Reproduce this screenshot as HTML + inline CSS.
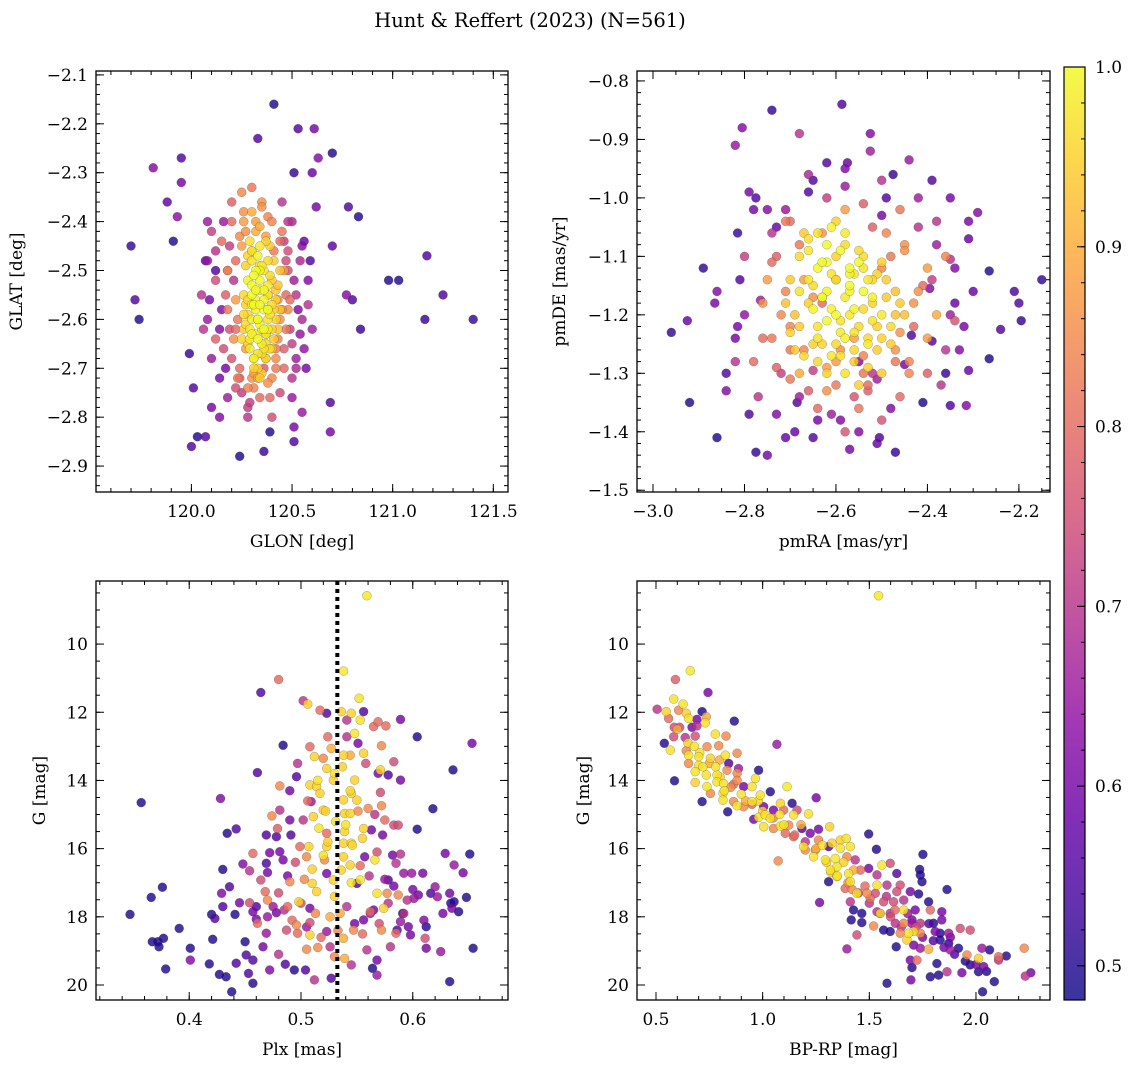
<!DOCTYPE html>
<html><head><meta charset="utf-8"><style>
html,body{margin:0;padding:0;background:#fff;}
svg{display:block;font-family:"DejaVu Serif","Liberation Serif",serif;}
</style></head><body>
<svg id="fig" width="1136" height="1067" viewBox="0 0 1136 1067" xmlns="http://www.w3.org/2000/svg">
<defs>
<linearGradient id="cbgrad" x1="0" y1="1" x2="0" y2="0">
<stop offset="0" stop-color="#0d0887"/><stop offset="0.1" stop-color="#41049d"/><stop offset="0.2" stop-color="#6a00a8"/><stop offset="0.3" stop-color="#8f0da4"/><stop offset="0.4" stop-color="#b12a90"/><stop offset="0.5" stop-color="#cc4778"/><stop offset="0.6" stop-color="#e16462"/><stop offset="0.7" stop-color="#f2844b"/><stop offset="0.8" stop-color="#fca636"/><stop offset="0.9" stop-color="#fcce25"/><stop offset="1" stop-color="#f0f921"/>
</linearGradient>
</defs>
<text x="530" y="27" font-size="19.5" text-anchor="middle">Hunt &amp; Reffert (2023) (N=561)</text>
</svg>
<script>
// ---- Panel 1: GLON / GLAT ----
const glonVals=[120.41,119.70,119.72,119.74,119.81,119.95,119.95,119.88,119.93,119.91,119.99,120.01,120.00,120.03,120.07,120.24,120.36,120.39,120.51,120.51,120.55,120.69,120.69,120.53,120.61,120.70,120.63,120.51,120.60,120.78,120.83,120.77,120.80,120.84,120.98,121.03,121.17,121.16,121.25,121.40,120.33,120.70,120.62,
120.10,120.15,120.08,120.12,120.20,120.25,120.30,120.45,120.50,120.55,120.05,120.08,120.12,120.18,120.48,120.52,120.58,120.55,120.50,120.46,120.10,120.14,120.06,120.18,120.22,120.28,120.34,120.40,120.44,120.52,120.56,120.60,120.58,120.48,120.42,120.36,120.30,120.24,120.16,120.12,120.08,120.20,120.26,120.32,120.38,120.46,120.54,120.50,120.14,120.10,120.28,120.40,120.22,120.18,120.35,120.47,120.43,120.25,120.31,120.37,
120.30,120.34,120.38,120.32,120.36,120.40,120.28,120.26,120.30,120.34,120.38,120.42,120.44,120.36,120.32,120.28,120.30,120.34,120.38,120.40,120.26,120.29,120.33,120.37,120.41,120.35,120.31,120.27,120.39,120.43,120.30,120.34,120.38,120.32,120.36,120.28,120.40,120.33,120.37,120.29,120.35,120.31,120.39,120.27,120.42,120.33,120.36,120.30,120.38,120.34,
120.16,120.19,120.22,120.24,120.21,120.17,120.15,120.19,120.23,120.27,120.45,120.48,120.51,120.47,120.44,120.49,120.53,120.46,120.42,120.50,120.20,120.23,120.17,120.25,120.21,120.46,120.49,120.43,120.52,120.47,120.26,120.30,120.35,120.40,120.44,120.24,120.28,120.33,120.38,120.42,120.12,120.09,120.56,120.59,120.14,120.54,120.32,120.37,120.27,120.41,120.07,120.57,120.18,120.48,120.29,120.39,120.22,120.45,120.34,120.31,
120.29,120.33,120.37,120.41,120.31,120.35,120.39,120.27,120.43,120.30,120.34,120.38,120.32,120.36,120.28,120.40,120.33,120.37,120.31,120.35,120.26,120.30,120.34,120.38,120.42,120.29,120.33,120.37,120.41,120.36,120.32,120.28,120.39,120.35,120.31,120.44,120.25,120.34,120.38,120.30];
const glatVals=[-2.16,-2.45,-2.56,-2.60,-2.29,-2.27,-2.32,-2.36,-2.39,-2.44,-2.67,-2.74,-2.86,-2.84,-2.84,-2.88,-2.87,-2.83,-2.82,-2.85,-2.79,-2.77,-2.83,-2.21,-2.21,-2.26,-2.27,-2.30,-2.30,-2.37,-2.39,-2.55,-2.56,-2.62,-2.52,-2.52,-2.47,-2.60,-2.55,-2.60,-2.23,-2.45,-2.37,
-2.42,-2.44,-2.48,-2.52,-2.36,-2.34,-2.33,-2.36,-2.40,-2.45,-2.55,-2.60,-2.64,-2.58,-2.50,-2.55,-2.52,-2.60,-2.65,-2.70,-2.68,-2.72,-2.62,-2.76,-2.74,-2.78,-2.76,-2.72,-2.75,-2.70,-2.66,-2.62,-2.57,-2.58,-2.66,-2.70,-2.72,-2.70,-2.66,-2.46,-2.40,-2.40,-2.38,-2.40,-2.39,-2.44,-2.48,-2.76,-2.80,-2.78,-2.80,-2.80,-2.62,-2.50,-2.36,-2.62,-2.56,-2.45,-2.74,-2.68,
-2.46,-2.45,-2.48,-2.50,-2.50,-2.52,-2.52,-2.55,-2.55,-2.54,-2.55,-2.56,-2.50,-2.58,-2.58,-2.59,-2.60,-2.61,-2.60,-2.62,-2.62,-2.64,-2.64,-2.65,-2.58,-2.67,-2.68,-2.57,-2.66,-2.62,-2.48,-2.52,-2.53,-2.56,-2.54,-2.47,-2.57,-2.60,-2.63,-2.66,-2.62,-2.57,-2.45,-2.61,-2.54,-2.70,-2.66,-2.63,-2.58,-2.49,
-2.40,-2.45,-2.48,-2.43,-2.52,-2.55,-2.58,-2.62,-2.60,-2.66,-2.42,-2.46,-2.52,-2.55,-2.60,-2.62,-2.58,-2.66,-2.68,-2.72,-2.68,-2.72,-2.70,-2.75,-2.64,-2.50,-2.56,-2.64,-2.68,-2.48,-2.40,-2.38,-2.37,-2.40,-2.44,-2.72,-2.74,-2.72,-2.73,-2.70,-2.50,-2.56,-2.44,-2.48,-2.62,-2.63,-2.42,-2.43,-2.42,-2.46,-2.48,-2.70,-2.50,-2.40,-2.77,-2.76,-2.56,-2.58,-2.41,-2.71,
-2.44,-2.47,-2.44,-2.48,-2.51,-2.49,-2.51,-2.49,-2.53,-2.57,-2.57,-2.58,-2.63,-2.62,-2.65,-2.66,-2.67,-2.68,-2.70,-2.71,-2.59,-2.53,-2.50,-2.55,-2.60,-2.62,-2.60,-2.63,-2.64,-2.56,-2.54,-2.56,-2.59,-2.65,-2.68,-2.58,-2.64,-2.72,-2.62,-2.46];
const prob1=[0.50,0.52,0.55,0.50,0.62,0.55,0.60,0.57,0.63,0.50,0.52,0.55,0.55,0.50,0.56,0.50,0.52,0.50,0.60,0.55,0.65,0.55,0.60,0.55,0.60,0.50,0.62,0.52,0.58,0.55,0.50,0.62,0.55,0.52,0.50,0.50,0.55,0.52,0.55,0.52,0.55,0.57,0.60,
0.72,0.80,0.65,0.75,0.78,0.85,0.82,0.70,0.68,0.62,0.70,0.65,0.78,0.82,0.75,0.70,0.62,0.68,0.72,0.80,0.65,0.60,0.70,0.66,0.75,0.72,0.80,0.85,0.74,0.68,0.64,0.66,0.70,0.85,0.82,0.78,0.86,0.80,0.75,0.70,0.65,0.80,0.86,0.88,0.84,0.72,0.68,0.65,0.62,0.60,0.70,0.75,0.80,0.78,0.86,0.82,0.86,0.88,0.84,0.88,
0.95,0.98,0.96,1.0,0.97,0.94,0.99,0.96,1.0,0.98,0.97,0.95,0.93,1.0,0.99,0.96,0.98,1.0,0.97,0.95,0.94,0.98,1.0,0.96,0.95,0.97,0.99,0.95,0.96,0.93,0.97,1.0,0.98,0.99,1.0,0.95,0.96,1.0,0.97,0.98,0.99,1.0,0.94,0.96,0.93,0.95,0.97,0.99,1.0,0.98,
0.65,0.72,0.80,0.85,0.70,0.78,0.62,0.75,0.82,0.88,0.82,0.75,0.66,0.80,0.86,0.72,0.62,0.78,0.85,0.70,0.76,0.82,0.60,0.72,0.86,0.88,0.80,0.84,0.66,0.74,0.88,0.90,0.86,0.84,0.80,0.78,0.84,0.90,0.86,0.82,0.55,0.60,0.58,0.55,0.62,0.64,0.90,0.88,0.86,0.82,0.56,0.60,0.84,0.70,0.72,0.80,0.88,0.86,0.90,0.88,
0.97,0.99,0.95,0.94,1.0,0.98,0.96,0.95,0.93,0.99,1.0,0.97,0.98,1.0,0.95,0.94,0.97,0.96,0.95,0.94,0.96,1.0,0.99,0.97,0.95,0.98,1.0,0.97,0.94,0.99,1.0,0.96,0.97,0.98,0.96,0.93,0.95,0.94,0.98,0.97];
const glonTicks=[120.0,120.5,121.0,121.5];
const glatTicks=[-2.9,-2.8,-2.7,-2.6,-2.5,-2.4,-2.3,-2.2,-2.1];

// ---- Panel 2: pmRA / pmDE ----
const pmraVals=[-2.587,-2.74,-2.805,-2.82,-2.68,-2.525,-2.62,-2.575,-2.525,-2.65,-2.475,-2.79,-2.775,-2.75,-2.71,-2.73,-2.815,-2.80,-2.81,-2.86,-2.865,-2.96,-2.92,-2.84,-2.86,-2.79,-2.775,-2.75,-2.71,-2.685,-2.59,-2.505,-2.47,-2.41,-2.35,-2.315,-2.36,-2.31,-2.265,-2.24,-2.195,-2.20,-2.15,-2.265,-2.31,-2.29,-2.35,-2.39,-2.44,-2.35,-2.395,-2.34,-2.435,-2.45,-2.51,-2.55,-2.65,-2.73,-2.82,-2.765,-2.89,-2.925,-2.815,-2.21,-2.39,-2.31,-2.49,
-2.75,-2.72,-2.70,-2.68,-2.66,-2.64,-2.62,-2.55,-2.50,-2.46,-2.44,-2.40,-2.38,-2.42,-2.48,-2.52,-2.58,-2.63,-2.68,-2.73,-2.78,-2.76,-2.70,-2.60,-2.54,-2.47,-2.43,-2.36,-2.34,-2.56,-2.65,-2.71,-2.50,-2.45,-2.60,-2.67,-2.74,-2.53,-2.40,-2.58,
-2.66,-2.62,-2.60,-2.58,-2.64,-2.68,-2.70,-2.62,-2.56,-2.54,-2.52,-2.50,-2.48,-2.46,-2.60,-2.64,-2.66,-2.58,-2.55,-2.53,-2.51,-2.57,-2.61,-2.65,-2.69,-2.63,-2.59,-2.56,-2.49,-2.47,-2.54,-2.60,-2.67,-2.71,-2.62,-2.58,-2.52,-2.50,-2.56,-2.64,-2.61,-2.57,-2.53,-2.59,-2.65,-2.55,-2.63,-2.68,-2.51,-2.45,
-2.78,-2.74,-2.70,-2.66,-2.62,-2.58,-2.54,-2.50,-2.46,-2.42,-2.38,-2.34,-2.30,-2.76,-2.72,-2.68,-2.64,-2.60,-2.56,-2.52,-2.48,-2.44,-2.40,-2.36,-2.32,-2.80,-2.71,-2.67,-2.63,-2.59,-2.55,-2.51,-2.47,-2.43,-2.39,-2.35,-2.77,-2.73,-2.69,-2.65,-2.61,-2.57,-2.53,-2.49,-2.45,-2.41,-2.37,-2.33,-2.84,-2.82,-2.66,-2.58,-2.50,-2.42,-2.62,-2.54,-2.46,-2.70,-2.74,-2.38,
-2.64,-2.61,-2.58,-2.55,-2.52,-2.49,-2.66,-2.63,-2.60,-2.57,-2.54,-2.51,-2.48,-2.68,-2.65,-2.62,-2.59,-2.56,-2.53,-2.50,-2.47,-2.70,-2.67,-2.61,-2.58,-2.55,-2.52,-2.63,-2.57,-2.60,-2.54,-2.66,-2.69,-2.59,-2.56,-2.62,-2.53,-2.50,-2.64,-2.57];
const pmdeVals=[-0.84,-0.85,-0.88,-0.91,-0.89,-0.89,-0.94,-0.94,-0.92,-0.97,-0.96,-0.99,-1.00,-1.02,-1.02,-1.05,-1.06,-1.10,-1.14,-1.16,-1.18,-1.23,-1.35,-1.33,-1.41,-1.37,-1.435,-1.44,-1.41,-1.35,-1.38,-1.41,-1.435,-1.35,-1.355,-1.355,-1.30,-1.295,-1.275,-1.225,-1.21,-1.18,-1.14,-1.125,-1.07,-1.025,-1.00,-0.97,-0.935,-1.105,-1.155,-1.18,-1.235,-1.285,-1.31,-1.28,-1.295,-1.29,-1.28,-1.175,-1.12,-1.21,-1.22,-1.16,-1.245,-1.04,-1.00,
-1.14,-1.20,-1.26,-1.30,-1.33,-1.36,-1.33,-1.36,-1.38,-1.34,-1.30,-1.24,-1.20,-1.16,-1.10,-1.05,-1.02,-1.06,-1.08,-1.10,-1.28,-1.18,-1.22,-1.28,-1.30,-1.26,-1.22,-1.10,-1.21,-1.24,-1.17,-1.04,-1.12,-1.08,-1.14,-1.26,-1.24,-1.32,-1.12,-1.40,
-1.07,-1.08,-1.10,-1.06,-1.12,-1.10,-1.14,-1.16,-1.13,-1.16,-1.18,-1.20,-1.22,-1.18,-1.20,-1.22,-1.18,-1.24,-1.22,-1.25,-1.26,-1.15,-1.13,-1.15,-1.20,-1.25,-1.27,-1.19,-1.14,-1.16,-1.10,-1.04,-1.06,-1.18,-1.11,-1.17,-1.21,-1.24,-1.28,-1.28,-1.19,-1.12,-1.14,-1.21,-1.25,-1.09,-1.17,-1.22,-1.13,-1.20,
-1.02,-1.06,-1.04,-0.99,-1.00,-0.98,-1.01,-1.03,-1.02,-1.05,-1.08,-1.12,-1.16,-1.24,-1.30,-1.34,-1.38,-1.32,-1.34,-1.30,-1.36,-1.28,-1.30,-1.26,-1.22,-1.20,-1.16,-1.14,-1.18,-1.26,-1.40,-1.42,-1.28,-1.18,-1.14,-1.20,-1.34,-1.37,-1.40,-1.41,-1.37,-1.43,-1.33,-1.06,-1.09,-1.15,-1.32,-1.26,-1.30,-1.24,-0.96,-0.95,-0.97,-1.00,-1.29,-1.27,-1.23,-1.31,-1.11,-1.04,
-1.06,-1.05,-1.08,-1.11,-1.14,-1.17,-1.09,-1.11,-1.14,-1.16,-1.19,-1.22,-1.25,-1.16,-1.19,-1.21,-1.23,-1.26,-1.29,-1.30,-1.20,-1.23,-1.27,-1.27,-1.30,-1.32,-1.17,-1.17,-1.20,-1.25,-1.12,-1.14,-1.26,-1.09,-1.23,-1.30,-1.24,-1.11,-1.24,-1.13];
const prob2=[0.55,0.52,0.62,0.65,0.70,0.62,0.55,0.58,0.66,0.55,0.52,0.60,0.55,0.62,0.65,0.58,0.52,0.72,0.55,0.62,0.60,0.52,0.50,0.62,0.50,0.55,0.52,0.60,0.58,0.55,0.62,0.55,0.52,0.50,0.55,0.62,0.52,0.58,0.50,0.55,0.52,0.55,0.52,0.50,0.58,0.62,0.60,0.55,0.65,0.70,0.62,0.58,0.55,0.60,0.66,0.62,0.72,0.78,0.70,0.66,0.52,0.58,0.60,0.55,0.56,0.60,0.55,
0.88,0.85,0.82,0.90,0.78,0.80,0.86,0.82,0.76,0.80,0.84,0.88,0.90,0.86,0.82,0.78,0.88,0.86,0.82,0.78,0.80,0.86,0.84,0.88,0.82,0.86,0.80,0.84,0.76,0.88,0.86,0.82,0.84,0.86,0.88,0.84,0.82,0.80,0.88,0.76,
0.97,1.0,0.95,0.98,1.0,0.96,0.94,0.99,0.97,1.0,0.95,0.98,0.96,0.94,1.0,0.97,0.95,0.99,0.96,0.98,0.94,1.0,0.97,0.96,0.93,0.95,0.97,0.99,0.94,0.93,0.96,0.95,0.94,0.93,1.0,0.98,0.97,0.95,0.94,0.96,0.99,1.0,0.98,0.97,0.95,0.96,1.0,0.94,0.95,0.93,
0.6,0.7,0.8,0.55,0.72,0.65,0.78,0.6,0.82,0.7,0.66,0.62,0.58,0.8,0.72,0.66,0.6,0.82,0.76,0.7,0.62,0.84,0.78,0.7,0.6,0.64,0.84,0.88,0.8,0.86,0.62,0.58,0.82,0.86,0.72,0.66,0.7,0.62,0.58,0.55,0.66,0.6,0.78,0.84,0.86,0.8,0.7,0.62,0.55,0.6,0.68,0.62,0.7,0.66,0.88,0.84,0.86,0.82,0.8,0.7,
0.97,0.99,0.96,1.0,0.95,0.94,0.98,1.0,0.97,0.99,0.96,0.95,0.94,0.97,0.99,1.0,0.98,0.96,0.95,0.94,0.93,0.95,0.96,0.98,0.97,0.95,0.99,1.0,0.98,0.96,0.97,0.98,0.94,1.0,0.97,0.95,0.96,0.95,0.97,0.99];
const pmraTicks=[-3.0,-2.8,-2.6,-2.4,-2.2];
const pmdeTicks=[-1.5,-1.4,-1.3,-1.2,-1.1,-1.0,-0.9,-0.8];

// ---- Panel 3: Plx / G ----
const plxVals=[0.357,0.347,0.366,0.376,0.367,0.372,0.373,0.377,0.379,0.391,0.401,0.401,0.418,0.421,0.427,0.433,0.438,0.420,0.423,0.430,0.429,0.436,0.430,0.428,0.434,0.442,0.441,0.442,0.450,0.451,0.457,0.457,0.453,0.445,0.448,0.454,0.454,0.457,0.460,0.461,0.461,0.464,0.480,0.484,0.457,0.464,0.468,0.470,0.469,0.472,0.469,0.470,0.475,0.478,0.466,0.469,0.472,0.480,0.474,0.479,0.481,0.481,0.478,0.481,0.484,0.486,0.487,0.488,0.490,0.490,0.496,0.491,0.490,0.494,0.496,0.497,0.499,0.502,0.498,0.502,0.506,0.504,0.505,0.512,0.508,0.508,0.505,0.508,0.512,0.508,0.514,0.509,0.511,0.507,0.510,0.514,0.517,0.523,0.520,0.523,0.517,0.520,0.523,0.521,0.523,0.523,0.524,0.527,0.523,0.526,0.527,0.530,0.529,0.529,0.538,0.536,0.545,0.541,0.538,0.544,0.538,0.545,0.539,0.544,0.538,0.545,0.538,0.544,0.536,0.535,0.539,0.545,0.538,0.541,0.548,0.550,0.552,0.553,0.556,0.548,0.551,0.556,0.556,0.555,0.557,0.553,0.550,0.547,0.556,0.559,0.559,0.560,0.563,0.565,0.569,0.576,0.566,0.568,0.569,0.571,0.572,0.571,0.572,0.565,0.562,0.572,0.568,0.568,0.564,0.574,0.577,0.575,0.578,0.580,0.578,0.583,0.583,0.587,0.582,0.589,0.585,0.589,0.589,0.585,0.586,0.587,0.592,0.599,0.595,0.601,0.596,0.598,0.591,0.604,0.604,0.605,0.609,0.612,0.611,0.612,0.618,0.620,0.616,0.622,0.625,0.627,0.629,0.633,0.634,0.637,0.641,0.635,0.636,0.637,0.645,0.648,0.651,0.653,0.654,0.633,0.589,0.508,
0.485,0.492,0.500,0.505,0.513,0.518,0.526,0.533,0.541,0.548,0.555,0.562,0.570,0.578,0.488,0.495,0.503,0.510,0.516,0.524,0.531,0.539,0.546,0.553,0.561,0.568,0.575,0.583,0.497,0.506,0.515,0.522,0.530,0.537,0.544,0.551,0.558,0.566,0.573,0.480,0.470,0.592,0.600,0.460,0.610,0.520,0.540,0.530,0.515,0.545];
const gmag3=[14.65,17.93,17.43,17.13,18.73,18.73,18.88,18.63,19.53,18.34,18.92,19.27,19.38,18.66,19.69,19.76,20.20,17.93,18.05,17.70,17.31,17.12,16.61,14.53,15.55,15.42,17.93,19.36,18.73,19.12,19.27,19.95,19.66,17.59,16.45,16.65,17.59,17.85,18.07,18.19,13.77,11.42,11.04,12.97,16.14,16.92,17.26,17.51,15.60,16.12,16.43,16.70,17.70,17.88,18.88,18.48,19.56,19.10,15.04,15.41,14.87,14.16,15.65,16.09,16.33,19.39,18.39,17.70,16.97,14.30,13.89,15.60,15.16,19.56,18.24,18.48,15.94,15.16,17.56,11.66,11.76,19.56,18.95,19.85,18.17,17.75,16.24,13.01,13.30,14.13,14.18,14.62,15.06,15.94,17.02,17.26,11.94,12.03,13.35,13.65,14.38,14.87,15.55,16.33,15.94,16.73,12.72,13.06,18.43,18.88,19.80,19.17,13.99,16.92,10.79,11.98,12.03,12.23,13.26,13.26,14.57,14.38,14.97,14.97,15.84,15.84,16.24,16.48,16.63,17.90,19.22,19.41,18.63,12.72,13.99,14.58,11.59,12.23,11.98,12.62,12.91,13.20,15.41,15.70,16.24,16.92,17.02,18.39,18.09,18.97,8.58,14.82,15.45,12.42,12.28,12.40,16.33,17.31,13.79,13.69,12.98,14.35,14.74,17.80,17.85,18.39,19.27,19.71,19.51,17.75,17.31,15.16,16.92,18.88,13.84,13.45,15.31,15.31,16.19,16.16,16.43,12.21,13.99,18.48,18.39,17.36,16.72,16.72,17.51,17.46,18.29,18.53,17.90,12.72,15.43,17.36,16.72,18.29,18.63,18.92,14.83,17.12,17.31,17.41,19.02,17.90,16.14,17.31,17.60,17.56,17.85,17.75,13.69,16.48,16.71,17.43,16.16,12.91,18.92,19.90,18.14,18.53,
17.8,18.1,17.6,18.3,17.9,18.6,18.0,18.4,17.7,18.2,18.5,17.9,18.2,17.6,16.8,16.4,16.9,16.6,15.4,15.8,15.2,15.5,15.9,16.5,16.8,16.1,16.9,17.1,13.5,14.6,14.0,14.9,13.8,13.6,14.3,14.9,13.5,15.0,15.6,17.3,18.0,17.9,17.2,17.7,18.1,16.2,15.3,17.4,18.9,17.0];
const prob3=[.5,.5,.5,.5,.5,.5,.5,.5,.5,.5,.5,.62,.5,.5,.5,.5,.5,.5,.55,.55,.62,.55,.5,.62,.5,.55,.5,.55,.5,.55,.55,.5,.55,.6,.62,.7,.75,.6,.6,.8,.55,.55,.8,.5,.8,.75,.8,.85,.55,.6,.55,.6,.65,.6,.6,.65,.62,.7,.85,.78,.7,.85,.55,.6,.6,.55,.75,.8,.85,.6,.55,.55,.6,.5,.85,.8,.8,.7,.95,.7,.95,.55,.85,.7,.75,.6,.85,.8,.95,.95,.95,.65,.95,.95,.95,.95,.8,.55,.85,.95,.95,.95,.8,.85,.95,.6,.8,.9,.65,.7,.55,.85,.95,.95,.98,.95,.95,.7,.95,.9,.95,.95,.95,.95,.95,.95,.95,.95,.95,.9,.9,.7,.9,.7,.95,.95,.97,.97,.55,.98,.6,.95,.95,.95,.6,.98,.55,.85,.6,.7,.98,.85,.6,.8,.8,.8,.97,.97,.6,.95,.85,.75,.85,.6,.8,.85,.6,.65,.5,.95,.85,.8,.55,.7,.55,.75,.75,.75,.6,.7,.7,.6,.6,.8,.55,.85,.65,.65,.7,.65,.6,.6,.5,.5,.5,.6,.6,.5,.75,.6,.5,.65,.55,.65,.65,.6,.6,.6,.5,.5,.5,.6,.5,.65,.6,.5,.5,.6,.5,.5,.65,.95,
.7,.8,.75,.65,.85,.8,.9,.85,.7,.6,.8,.65,.75,.7,.6,.75,.85,.95,.97,.95,.97,.95,.96,.8,.7,.75,.65,.6,.7,.8,.97,.95,.97,.95,.96,.85,.75,.7,.6,.75,.65,.7,.6,.55,.62,.97,.97,.95,.85,.97];
const plxTicks=[0.4,0.5,0.6];
const plxRef=[0.5325];
const gTicks=[10,12,14,16,18,20];

// ---- Panel 4: BP-RP / G ----
const bprpVals=[1.543,0.661,0.591,0.744,0.583,0.505,0.548,0.627,0.606,0.716,0.642,0.559,0.653,0.692,0.736,0.731,0.867,0.586,0.611,0.669,0.692,0.778,0.828,0.583,0.637,0.684,0.539,0.567,1.067,0.642,0.739,0.794,0.705,0.825,0.880,0.653,0.653,0.700,0.755,0.798,0.841,0.887,0.981,0.684,0.736,0.786,0.833,0.880,0.587,0.684,0.739,0.786,0.817,0.864,0.911,0.950,0.966,1.036,1.114,0.716,0.755,0.814,0.814,0.864,0.989,0.880,0.911,0.950,0.836,1.005,1.083,1.138,1.051,1.098,1.161,1.251,0.958,0.981,1.012,1.036,1.005,1.051,1.083,1.122,1.145,1.215,1.106,1.145,1.184,1.223,1.262,1.314,1.262,1.192,1.200,1.247,1.239,1.309,1.325,1.364,1.392,1.364,1.411,1.395,1.294,1.340,1.348,1.317,1.434,1.426,1.497,1.533,1.073,1.309,1.348,1.403,1.411,1.458,1.497,1.559,1.536,1.598,1.629,1.751,1.736,1.739,1.747,1.387,1.442,1.489,1.536,1.528,1.583,1.645,1.629,1.692,1.864,1.411,1.504,1.567,1.614,1.661,1.731,1.778,1.267,1.426,1.465,1.536,1.551,1.598,1.661,1.715,1.786,1.840,1.415,1.465,1.520,1.567,1.622,1.661,1.700,1.739,1.801,1.840,1.926,1.973,1.442,1.598,1.645,1.684,1.708,1.739,1.809,1.832,1.872,1.395,1.626,1.676,1.708,1.739,1.778,1.832,1.872,1.879,1.918,1.958,2.028,2.064,2.012,2.106,2.142,2.226,1.692,1.723,1.700,1.817,1.864,1.934,1.973,2.012,2.036,2.106,1.786,1.825,1.695,1.583,2.086,2.031,2.231,2.257,
0.60,0.65,0.70,0.75,0.80,0.85,0.90,0.95,1.00,1.05,1.10,1.15,1.20,1.25,1.30,1.35,1.40,1.45,1.50,1.55,1.60,1.65,1.70,1.75,1.80,1.85,1.90,1.95,2.00,2.05,0.68,0.78,0.88,0.98,1.08,1.18,1.28,1.38,1.48,1.58,1.68,1.78,1.88,0.72,0.82,0.92,1.32,1.42,1.62,1.72];
const gmag4=[8.58,10.78,11.04,11.42,11.61,11.91,11.98,11.76,11.94,11.98,12.03,12.18,12.18,12.21,12.13,12.31,12.26,12.44,12.44,12.44,12.40,12.64,12.70,12.72,12.74,12.70,12.91,13.11,12.94,13.13,13.01,12.98,13.19,13.26,13.20,13.26,13.50,13.56,13.35,13.40,13.50,13.65,13.70,13.74,13.84,13.84,13.70,13.79,14.01,14.06,14.18,14.04,14.09,14.11,14.18,14.18,13.94,14.33,14.18,14.62,14.38,14.38,14.58,14.62,14.43,14.74,14.77,14.62,14.92,14.77,14.67,14.67,14.87,14.87,14.87,14.51,15.14,15.08,15.01,15.11,15.36,15.41,15.34,15.31,15.01,14.98,15.55,15.65,15.41,15.55,15.43,15.36,15.75,15.94,16.04,16.04,16.24,15.94,15.84,15.75,15.70,15.99,15.94,16.24,16.33,16.29,16.53,16.63,16.33,16.63,15.57,16.02,16.36,16.97,16.82,16.73,16.97,16.63,16.58,16.48,16.77,16.43,16.73,16.17,16.61,16.77,16.97,17.17,17.31,17.31,17.07,17.31,17.07,17.07,17.26,17.26,17.20,17.56,17.46,17.56,17.56,17.51,17.33,17.56,17.58,17.80,17.90,17.85,17.90,17.90,17.80,17.80,17.80,17.85,18.09,18.17,18.27,18.39,18.19,18.19,18.09,18.19,18.19,18.09,18.34,18.39,18.53,18.43,18.48,18.48,18.43,18.48,18.43,18.48,18.48,18.94,18.88,18.68,18.83,18.92,18.95,18.68,18.78,18.97,18.92,19.12,18.92,18.97,19.22,19.17,19.15,18.92,19.27,19.27,19.49,19.37,19.61,19.64,19.41,19.61,19.46,19.27,19.76,19.71,19.85,19.95,19.90,20.20,19.74,19.64,
12.5,12.9,13.3,13.5,13.9,14.2,14.4,14.7,14.9,15.1,15.3,15.6,15.8,16.0,16.4,16.8,17.0,17.3,17.6,17.9,18.0,18.3,18.2,18.6,18.7,18.9,19.1,19.3,19.4,19.6,13.0,13.6,14.0,14.6,15.0,15.3,15.9,16.4,17.1,17.4,17.9,18.2,18.6,13.6,14.3,14.6,16.7,17.2,17.8,18.3];
const prob4=[.98,.98,.78,.6,.97,.7,.95,.97,.85,.5,.95,.8,.97,.6,.9,.97,.5,.75,.75,.6,.7,.97,.85,.75,.7,.75,.5,.97,.65,.85,.85,.85,.97,.97,.85,.97,.85,.97,.95,.9,.55,.65,.5,.97,.97,.97,.85,.85,.5,.95,.97,.97,.97,.8,.6,.97,.97,.5,.98,.5,.85,.97,.97,.85,.97,.97,.85,.97,.5,.6,.95,.5,.6,.8,.75,.6,.6,.97,.97,.97,.97,.85,.97,.85,.97,.97,.8,.8,.55,.6,.6,.95,.85,.97,.85,.85,.97,.55,.95,.95,.97,.97,.97,.85,.97,.98,.97,.97,.7,.9,.5,.5,.85,.5,.97,.97,.97,.8,.6,.98,.7,.75,.55,.5,.5,.5,.5,.8,.97,.85,.97,.75,.7,.75,.75,.6,.5,.7,.8,.75,.75,.7,.5,.5,.6,.5,.5,.7,.97,.7,.97,.6,.8,.6,.5,.5,.85,.5,.7,.85,.6,.7,.5,.6,.75,.75,.75,.5,.85,.97,.95,.85,.6,.5,.65,.65,.5,.95,.6,.65,.9,.5,.5,.65,.5,.85,.65,.5,.95,.8,.5,.85,.6,.8,.5,.5,.7,.6,.5,.5,.6,.7,.5,.5,.6,.5,.5,.5,.7,.6,
.9,.95,.97,.9,.95,.85,.97,.8,.95,.85,.97,.8,.7,.9,.95,.97,.85,.75,.7,.6,.75,.7,.65,.6,.55,.6,.55,.5,.6,.5,.97,.97,.85,.95,.97,.9,.97,.95,.8,.7,.65,.55,.6,.97,.97,.9,.95,.85,.8,.75];
const bprpTicks=[0.5,1.0,1.5,2.0];

// ---- Colorbar ----
const cbTicks=[0.5,0.6,0.7,0.8,0.9,1.0];
const cbMin=0.481, cbMax=1.0;

const NS="http://www.w3.org/2000/svg";
const svg=document.getElementById('fig');
function el(tag,attrs,parent){const e=document.createElementNS(NS,tag);for(const k in attrs)e.setAttribute(k,attrs[k]);(parent||svg).appendChild(e);return e;}
const stops=[[13,8,135],[65,4,157],[106,0,168],[143,13,164],[177,42,144],[204,71,120],[225,100,98],[242,132,75],[252,166,54],[252,206,37],[240,249,33]];
function plasma(p){let t=(p-cbMin)/(cbMax-cbMin);t=Math.max(0,Math.min(1,t))*10;const i=Math.min(9,Math.floor(t)),f=t-i;const a=stops[i],b=stops[i+1];return 'rgb('+[0,1,2].map(k=>Math.round(a[k]+(b[k]-a[k])*f)).join(',')+')';}
function lin(d0,d1,r0,r1){return v=>r0+(v-d0)/(d1-d0)*(r1-r0);}
function fmt(v,dec){const s=Math.abs(v).toFixed(dec);return (v<0?'\u2212':'')+s;}

function panel(cfg){
  const g=el('g',{});
  
  
  const {L,T,R,B}=cfg;
  const xs=lin(cfg.xd[0],cfg.xd[1],L,R), ys=lin(cfg.yd[0],cfg.yd[1],B,T);
  const clipId='clip-'+cfg.name;
  const cp=el('clipPath',{id:clipId},g);el('rect',{x:L,y:T,width:R-L,height:B-T},cp);
  const pts=el('g',{'clip-path':'url(#'+clipId+')'},g);
  
  
  const idx=cfg.x.map((_,i)=>i).sort((a,b)=>cfg.p[a]-cfg.p[b]);
  idx.forEach(i=>{
    const c=el('circle',{cx:xs(cfg.x[i]).toFixed(1),cy:ys(cfg.y[i]).toFixed(1),r:4.5,fill:plasma(cfg.p[i]),'fill-opacity':0.82,stroke:'#333','stroke-opacity':0.55,'stroke-width':0.4},pts);
    
    
  });
  if(cfg.vline){cfg.vline.forEach(v=>{const ln=el('line',{x1:xs(v),x2:xs(v),y1:T,y2:B,stroke:'#000','stroke-width':4,'stroke-dasharray':'4,4'},g);
    
    });}
  const tk=el('g',{stroke:'#000','stroke-width':1},g);
  function minorRange(d0,d1,step,fn){const lo=Math.min(d0,d1),hi=Math.max(d0,d1);for(let v=Math.ceil(lo/step-1e-6)*step;v<=hi+1e-9;v+=step)fn(v);}
  minorRange(cfg.xd[0],cfg.xd[1],cfg.xminor,v=>{const x=xs(v);el('line',{x1:x,x2:x,y1:B,y2:B-4},tk);el('line',{x1:x,x2:x,y1:T,y2:T+4},tk);});
  minorRange(cfg.yd[0],cfg.yd[1],cfg.yminor,v=>{const y=ys(v);el('line',{x1:L,x2:L+4,y1:y,y2:y},tk);el('line',{x1:R,x2:R-4,y1:y,y2:y},tk);});
  cfg.xt.forEach(v=>{const x=xs(v);el('line',{x1:x,x2:x,y1:B,y2:B-8},tk);el('line',{x1:x,x2:x,y1:T,y2:T+8},tk);
    const t=el('text',{x:x,y:B+25,'font-size':17,'text-anchor':'middle'},g);t.textContent=fmt(v,cfg.xdec);
    
    });
  cfg.yt.forEach(v=>{const y=ys(v);el('line',{x1:L,x2:L+8,y1:y,y2:y},tk);el('line',{x1:R,x2:R-8,y1:y,y2:y},tk);
    const t=el('text',{x:L-8,y:y+6,'font-size':17,'text-anchor':'end'},g);t.textContent=fmt(v,cfg.ydec);
    
    });
  const fr=el('rect',{x:L,y:T,width:R-L,height:B-T,fill:'none',stroke:'#000','stroke-width':1.3},g);
  
  
  const xt=el('text',{x:(L+R)/2,y:B+55,'font-size':17,'text-anchor':'middle'},g);xt.textContent=cfg.xlabel;
  
  
  const yx=cfg.ylx, yy=(T+B)/2;
  const yt=el('text',{x:yx,y:yy,'font-size':17,'text-anchor':'middle',transform:'rotate(-90 '+yx+' '+yy+')'},g);yt.textContent=cfg.ylabel;
  
  
}

panel({name:'glon-glat-panel',L:96,T:71,R:508,B:492,xd:[119.526,121.573],yd:[-2.953,-2.092],x:glonVals,y:glatVals,p:prob1,xt:glonTicks,yt:glatTicks,xdec:1,ydec:1,xminor:0.1,yminor:0.02,xlabel:'GLON [deg]',ylabel:'GLAT [deg]',ylx:22});
panel({name:'pm-panel',L:637,T:71,R:1050,B:492,xd:[-3.035,-2.132],yd:[-1.503,-0.783],x:pmraVals,y:pmdeVals,p:prob2,xt:pmraTicks,yt:pmdeTicks,xdec:1,ydec:1,xminor:0.05,yminor:0.02,xlabel:'pmRA [mas/yr]',ylabel:'pmDE [mas/yr]',ylx:565});
panel({name:'plx-g-panel',L:96,T:581,R:508,B:1000,xd:[0.3166,0.6852],yd:[20.44,8.15],x:plxVals,y:gmag3,p:prob3,xt:plxTicks,yt:gTicks,xdec:1,ydec:0,xminor:0.02,yminor:0.5,xlabel:'Plx [mas]',ylabel:'G [mag]',ylx:45,vline:plxRef});
panel({name:'cmd-panel',L:637,T:581,R:1050,B:1000,xd:[0.411,2.347],yd:[20.44,8.15],x:bprpVals,y:gmag4,p:prob4,xt:bprpTicks,yt:gTicks,xdec:1,ydec:0,xminor:0.1,yminor:0.5,xlabel:'BP-RP [mag]',ylabel:'G [mag]',ylx:589});

(function(){
  const g=el('g',{});
  
  
  const L=1064,R=1085,T=67,B=1000;
  const ys=lin(cbMin,cbMax,B,T);
  el('rect',{x:L,y:T,width:R-L,height:B-T,fill:'url(#cbgrad)','fill-opacity':0.82},g);
  const tk=el('g',{stroke:'#000','stroke-width':1},g);
  for(let v=0.5;v<=1.0001;v+=0.02){const y=ys(v);el('line',{x1:R,x2:R-4,y1:y,y2:y},tk);}
  cbTicks.forEach(v=>{const y=ys(v);el('line',{x1:R,x2:R-8,y1:y,y2:y},tk);
    const t=el('text',{x:R+10,y:y+6,'font-size':17},g);t.textContent=v.toFixed(1);
    
    });
  el('rect',{x:L,y:T,width:R-L,height:B-T,fill:'none',stroke:'#000','stroke-width':1.2},g);
})();
</script>
</body></html>
